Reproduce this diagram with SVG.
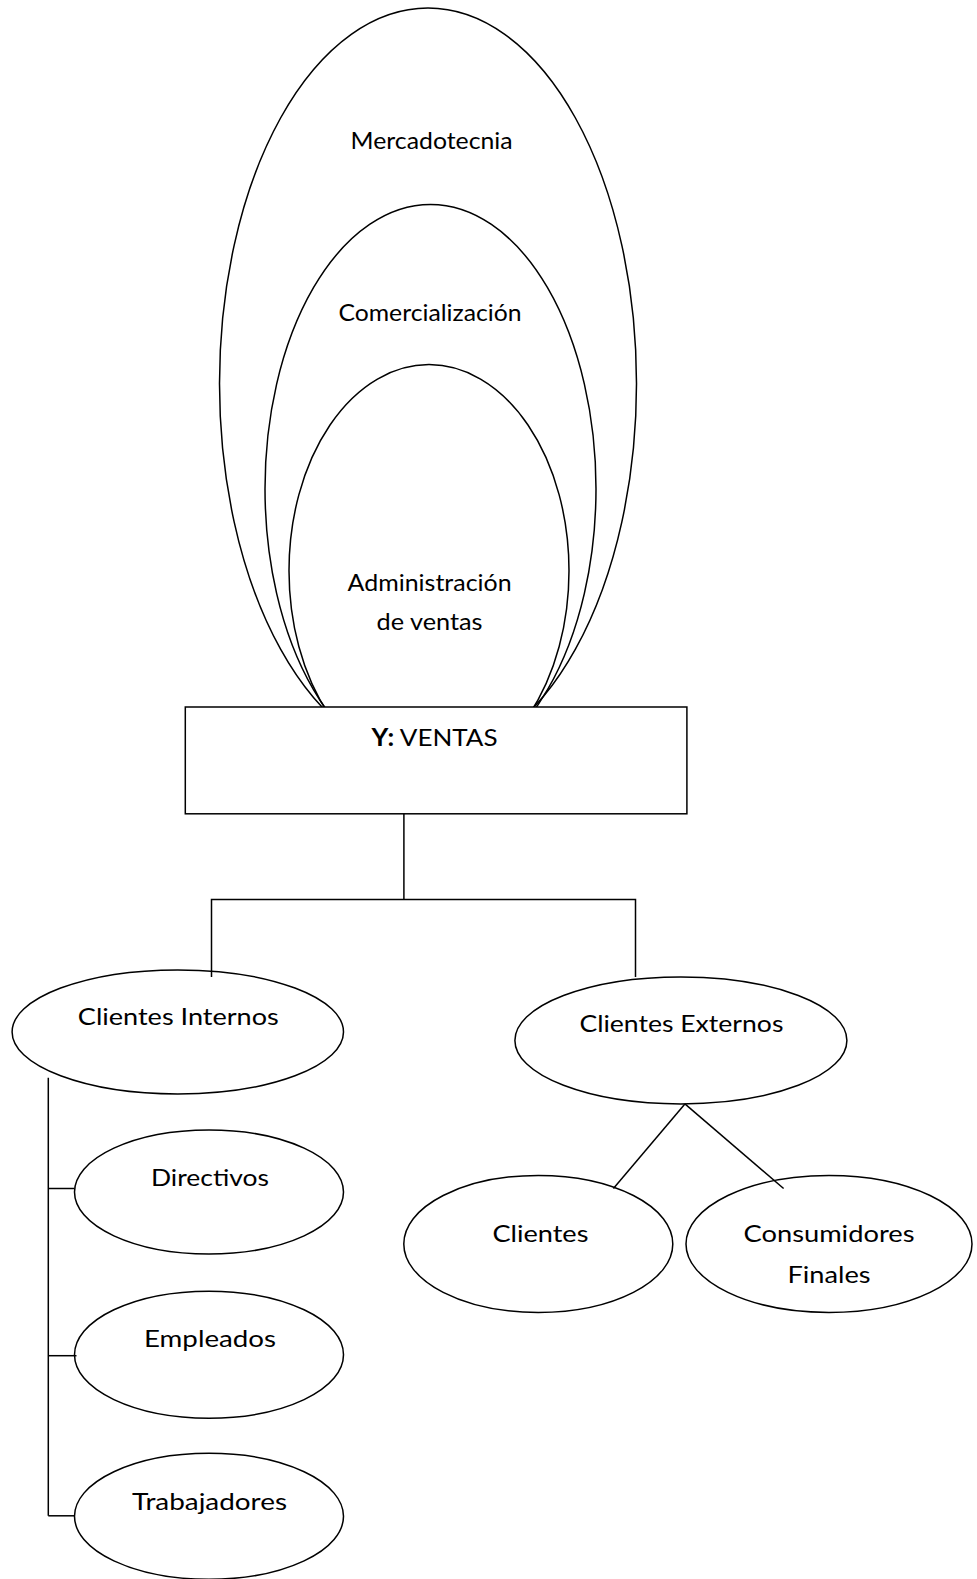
<svg xmlns="http://www.w3.org/2000/svg" width="977" height="1579" viewBox="0 0 977 1579">
<style>
.s{fill:none;stroke:#000;stroke-width:1.5}
.w{fill:#fff;stroke:#000;stroke-width:1.5}
.t{font-family:Lato,"Liberation Sans",sans-serif;font-size:24px;fill:#000;text-anchor:middle}
.c{fill:none;stroke:#000;stroke-width:1.5}
</style>
<rect width="977" height="1579" fill="#fff"/>
<g id="mercadotecnia">
<ellipse class="s" cx="428" cy="383.6" rx="208.5" ry="375.6"/>
<text class="t" x="431.6" y="149" textLength="162" lengthAdjust="spacingAndGlyphs">Mercadotecnia</text>
</g>
<g id="comercializacion">
<ellipse class="s" cx="430.5" cy="488.7" rx="165.5" ry="284.2"/>
<text class="t" x="430" y="321" textLength="183" lengthAdjust="spacingAndGlyphs">Comercialización</text>
</g>
<g id="administracion">
<ellipse class="s" cx="429" cy="570.7" rx="140" ry="206.1"/>
<text class="t" x="429.6" y="591" textLength="164" lengthAdjust="spacingAndGlyphs">Administración</text>
<text class="t" x="429.6" y="629.5" textLength="106" lengthAdjust="spacingAndGlyphs">de ventas</text>
</g>
<g id="ventas">
<rect class="w" x="185.3" y="707" width="501.6" height="106.8"/>
<text class="t" x="434.6" y="746.3" textLength="126" lengthAdjust="spacingAndGlyphs"><tspan font-weight="bold">Y:</tspan> VENTAS</text>
</g>
<g id="connectors">
<polyline class="c" points="403.9,813.8 403.9,899.4"/>
<polyline class="c" points="211.5,977 211.5,899.4 635.5,899.4 635.5,977"/>
<polyline class="c" points="48.3,1077.7 48.3,1515.8"/>
<line class="c" x1="48.3" y1="1188.5" x2="74.5" y2="1188.5"/>
<line class="c" x1="48.3" y1="1355.7" x2="76.5" y2="1355.7"/>
<line class="c" x1="48.3" y1="1515.8" x2="74.5" y2="1515.8"/>
<line class="c" x1="684.9" y1="1103.9" x2="613.4" y2="1188.5"/>
<line class="c" x1="684.9" y1="1103.9" x2="783.6" y2="1188.5"/>
</g>
<g id="clientes-internos">
<ellipse class="s" cx="177.8" cy="1031.9" rx="165.7" ry="62"/>
<text class="t" x="178.3" y="1025" textLength="201" lengthAdjust="spacingAndGlyphs">Clientes Internos</text>
</g>
<g id="clientes-externos">
<ellipse class="s" cx="680.9" cy="1040.4" rx="166" ry="63.5"/>
<text class="t" x="681.4" y="1032" textLength="204" lengthAdjust="spacingAndGlyphs">Clientes Externos</text>
</g>
<g id="directivos">
<ellipse class="s" cx="209" cy="1192" rx="134.5" ry="62"/>
<text class="t" x="210" y="1185.5" textLength="118" lengthAdjust="spacingAndGlyphs">Directivos</text>
</g>
<g id="empleados">
<ellipse class="s" cx="209" cy="1354.7" rx="134.5" ry="63.5"/>
<text class="t" x="210" y="1346.6" textLength="132" lengthAdjust="spacingAndGlyphs">Empleados</text>
</g>
<g id="trabajadores">
<ellipse class="s" cx="209" cy="1516.3" rx="134.5" ry="63"/>
<text class="t" x="209.5" y="1509.8" textLength="155" lengthAdjust="spacingAndGlyphs">Trabajadores</text>
</g>
<g id="clientes">
<ellipse class="s" cx="538.3" cy="1243.9" rx="134.5" ry="68.5"/>
<text class="t" x="540.4" y="1242" textLength="96" lengthAdjust="spacingAndGlyphs">Clientes</text>
</g>
<g id="consumidores-finales">
<ellipse class="s" cx="829" cy="1243.9" rx="143" ry="68.5"/>
<text class="t" x="829" y="1242" textLength="171" lengthAdjust="spacingAndGlyphs">Consumidores</text>
<text class="t" x="829" y="1283" textLength="83" lengthAdjust="spacingAndGlyphs">Finales</text>
</g>
</svg>
